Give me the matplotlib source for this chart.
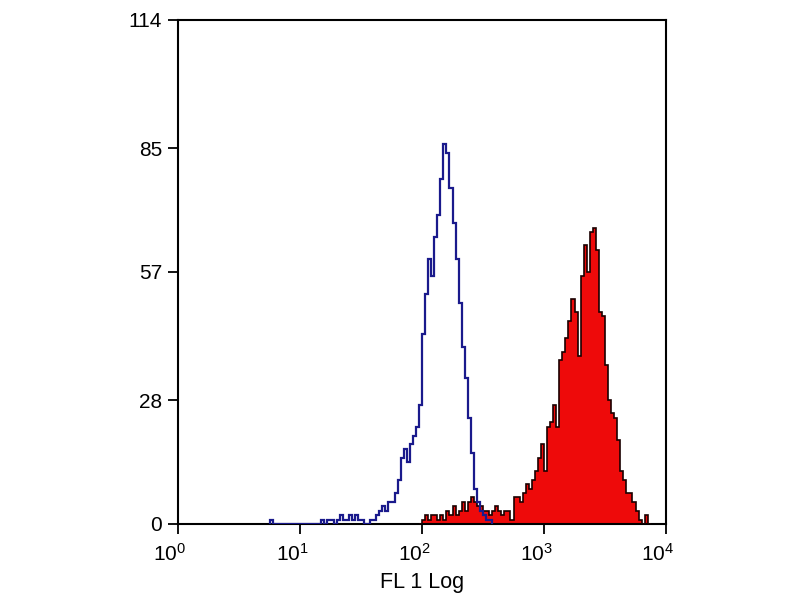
import numpy as np
import matplotlib.pyplot as plt
from matplotlib.transforms import ScaledTranslation

plt.rcParams['font.family'] = ['Liberation Sans', 'DejaVu Sans']
plt.rcParams['mathtext.default'] = 'regular'

# channel grid in log10(FL1) units
bin_width = 0.025

# isotype control (blue outline)
blue_start = 0.75
blue_counts = [1] + [0] * 15 + [
    0, 1, 0, 1, 1, 0, 1, 2, 1, 1, 2, 1, 2, 1,
    1, 0, 0, 1, 1, 2, 3, 4, 3, 5, 5, 7, 10, 15, 17, 14, 18, 20, 22, 27,
    43, 52, 60, 56, 65, 70, 78, 86, 84, 76, 68, 60, 50, 40, 33, 24, 16,
    8, 5, 3, 2, 1, 1,
]

# stained sample (red filled)
red_start = 1.975
red_counts = [
    0, 1, 2, 1, 2, 2, 1, 2, 1, 3, 2, 4, 2, 3, 5, 3, 5, 6, 5, 4, 4, 3, 3,
    2, 3, 4, 3, 2, 3, 3, 1, 6, 6, 5, 7, 9, 8, 10, 12, 15, 18, 12, 22, 23,
    27, 22, 37, 39, 42, 46, 51, 48, 38, 56, 63, 57, 66, 67, 62, 48, 47,
    36, 28, 25, 24, 19, 12, 10, 7, 7, 5, 3, 1, 0, 2, 0,
]

y_ticks = [0, 28, 57, 85, 114]
x_ticks = [1, 10, 100, 1000, 10000]
x_tick_labels = ['$10^0$', '$10^1$', '$10^2$', '$10^3$', '$10^4$']

fig = plt.figure(figsize=(8, 6), dpi=100)
ax = fig.add_axes([0.2225, 0.1267, 0.61, 0.84])

red_edges = 10 ** (red_start + bin_width * np.arange(len(red_counts) + 1))
ax.stairs(red_counts, red_edges, fill=True, color='#ee0a0a', zorder=2)
ax.stairs(red_counts, red_edges, color='#1a0000', linewidth=1.2, zorder=3)

blue_edges = 10 ** (blue_start + bin_width * np.arange(len(blue_counts) + 1))
ax.stairs(blue_counts, blue_edges, color='#1a1a8c', linewidth=1.6, zorder=4)

ax.set_xscale('log')
ax.set_xlim(1, 10000)
ax.set_ylim(0, 114)
ax.set_xticks(x_ticks)
ax.set_xticklabels(x_tick_labels)
ax.xaxis.set_minor_locator(plt.NullLocator())
ax.set_yticks(y_ticks)
ax.tick_params(direction='out', length=7.5, width=1.3, labelsize=15, colors='black')
ax.tick_params(axis='x', pad=6)
ax.tick_params(axis='y', pad=4)
shift = ScaledTranslation(-0.08, 0, fig.dpi_scale_trans)
for lab in ax.get_xticklabels():
    lab.set_transform(lab.get_transform() + shift)
for s in ax.spines.values():
    s.set_linewidth(1.5)

ax.set_xlabel('FL 1 Log', fontsize=15.5, labelpad=5)

fig.savefig('out.png')
